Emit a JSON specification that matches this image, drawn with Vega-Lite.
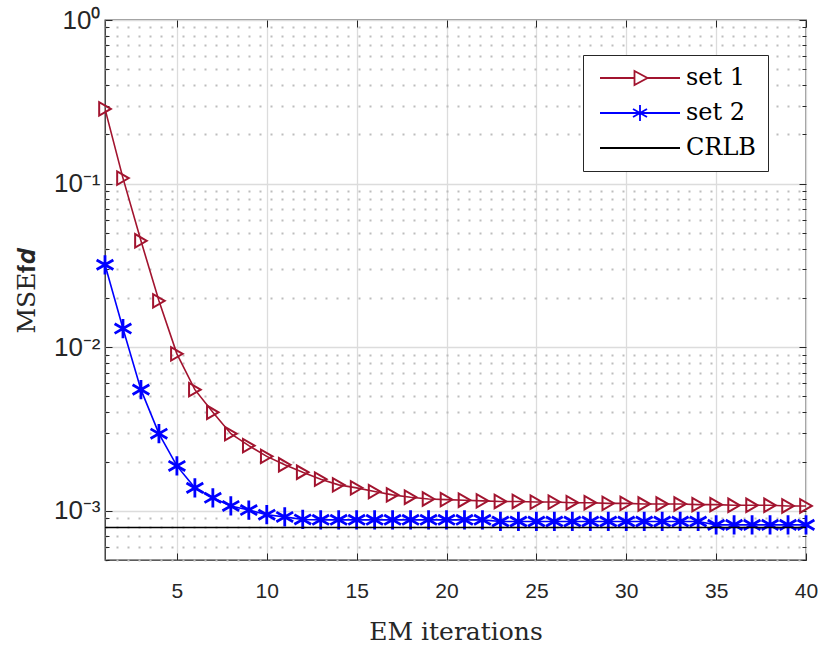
{
  "$schema": "https://vega.github.io/schema/vega-lite/v6.json",
  "width": 701,
  "height": 540,
  "autosize": {"type": "none"},
  "padding": {"left": 105, "top": 20, "right": 16, "bottom": 89},
  "background": "white",
  "config": {
    "view": {"stroke": "#262626", "strokeWidth": 1.3},
    "axis": {"domain": false}
  },
  "datasets": {
    "mse": [
      {"iter": 1, "series": "set 1", "mse": 0.286},
      {"iter": 2, "series": "set 1", "mse": 0.108},
      {"iter": 3, "series": "set 1", "mse": 0.0447},
      {"iter": 4, "series": "set 1", "mse": 0.0192},
      {"iter": 5, "series": "set 1", "mse": 0.0091},
      {"iter": 6, "series": "set 1", "mse": 0.0055},
      {"iter": 7, "series": "set 1", "mse": 0.0040},
      {"iter": 8, "series": "set 1", "mse": 0.00296},
      {"iter": 9, "series": "set 1", "mse": 0.0025},
      {"iter": 10, "series": "set 1", "mse": 0.00215},
      {"iter": 11, "series": "set 1", "mse": 0.00191},
      {"iter": 12, "series": "set 1", "mse": 0.00172},
      {"iter": 13, "series": "set 1", "mse": 0.00156},
      {"iter": 14, "series": "set 1", "mse": 0.00144},
      {"iter": 15, "series": "set 1", "mse": 0.00138},
      {"iter": 16, "series": "set 1", "mse": 0.00131},
      {"iter": 17, "series": "set 1", "mse": 0.00125},
      {"iter": 18, "series": "set 1", "mse": 0.00121},
      {"iter": 19, "series": "set 1", "mse": 0.00118},
      {"iter": 20, "series": "set 1", "mse": 0.00117},
      {"iter": 21, "series": "set 1", "mse": 0.00116},
      {"iter": 22, "series": "set 1", "mse": 0.00115},
      {"iter": 23, "series": "set 1", "mse": 0.00114},
      {"iter": 24, "series": "set 1", "mse": 0.00114},
      {"iter": 25, "series": "set 1", "mse": 0.00113},
      {"iter": 26, "series": "set 1", "mse": 0.00113},
      {"iter": 27, "series": "set 1", "mse": 0.00112},
      {"iter": 28, "series": "set 1", "mse": 0.00112},
      {"iter": 29, "series": "set 1", "mse": 0.00111},
      {"iter": 30, "series": "set 1", "mse": 0.00111},
      {"iter": 31, "series": "set 1", "mse": 0.0011},
      {"iter": 32, "series": "set 1", "mse": 0.0011},
      {"iter": 33, "series": "set 1", "mse": 0.0011},
      {"iter": 34, "series": "set 1", "mse": 0.00109},
      {"iter": 35, "series": "set 1", "mse": 0.00109},
      {"iter": 36, "series": "set 1", "mse": 0.00108},
      {"iter": 37, "series": "set 1", "mse": 0.00108},
      {"iter": 38, "series": "set 1", "mse": 0.00108},
      {"iter": 39, "series": "set 1", "mse": 0.00107},
      {"iter": 40, "series": "set 1", "mse": 0.00107},
      {"iter": 1, "series": "set 2", "mse": 0.0319},
      {"iter": 2, "series": "set 2", "mse": 0.0130},
      {"iter": 3, "series": "set 2", "mse": 0.0055},
      {"iter": 4, "series": "set 2", "mse": 0.00296},
      {"iter": 5, "series": "set 2", "mse": 0.00188},
      {"iter": 6, "series": "set 2", "mse": 0.00138},
      {"iter": 7, "series": "set 2", "mse": 0.0012},
      {"iter": 8, "series": "set 2", "mse": 0.00107},
      {"iter": 9, "series": "set 2", "mse": 0.00101},
      {"iter": 10, "series": "set 2", "mse": 0.000946},
      {"iter": 11, "series": "set 2", "mse": 0.000917},
      {"iter": 12, "series": "set 2", "mse": 0.000885},
      {"iter": 13, "series": "set 2", "mse": 0.00088},
      {"iter": 14, "series": "set 2", "mse": 0.00088},
      {"iter": 15, "series": "set 2", "mse": 0.00088},
      {"iter": 16, "series": "set 2", "mse": 0.00088},
      {"iter": 17, "series": "set 2", "mse": 0.00088},
      {"iter": 18, "series": "set 2", "mse": 0.00088},
      {"iter": 19, "series": "set 2", "mse": 0.00088},
      {"iter": 20, "series": "set 2", "mse": 0.00088},
      {"iter": 21, "series": "set 2", "mse": 0.00088},
      {"iter": 22, "series": "set 2", "mse": 0.00088},
      {"iter": 23, "series": "set 2", "mse": 0.00086},
      {"iter": 24, "series": "set 2", "mse": 0.00086},
      {"iter": 25, "series": "set 2", "mse": 0.00086},
      {"iter": 26, "series": "set 2", "mse": 0.00086},
      {"iter": 27, "series": "set 2", "mse": 0.00086},
      {"iter": 28, "series": "set 2", "mse": 0.00086},
      {"iter": 29, "series": "set 2", "mse": 0.00086},
      {"iter": 30, "series": "set 2", "mse": 0.00086},
      {"iter": 31, "series": "set 2", "mse": 0.00086},
      {"iter": 32, "series": "set 2", "mse": 0.00086},
      {"iter": 33, "series": "set 2", "mse": 0.00086},
      {"iter": 34, "series": "set 2", "mse": 0.00086},
      {"iter": 35, "series": "set 2", "mse": 0.00082},
      {"iter": 36, "series": "set 2", "mse": 0.00082},
      {"iter": 37, "series": "set 2", "mse": 0.00082},
      {"iter": 38, "series": "set 2", "mse": 0.00082},
      {"iter": 39, "series": "set 2", "mse": 0.00082},
      {"iter": 40, "series": "set 2", "mse": 0.00082}
    ],
    "crlb": [{"series": "CRLB", "mse": 0.00079}]
  },
  "resolve": {"axis": {"x": "independent", "y": "independent"}},
  "layer": [
    {
      "data": {"name": "mse"},
      "mark": {"type": "line", "strokeWidth": 1.6, "clip": true},
      "encoding": {
        "x": {
          "field": "iter", "type": "quantitative",
          "scale": {"domain": [1, 40], "nice": false, "zero": false},
          "axis": {
            "orient": "bottom",
            "values": [5, 10, 15, 20, 25, 30, 35, 40],
            "title": "EM iterations",
            "titleFont": "DejaVu Serif", "titleFontSize": 25, "titleFontWeight": "normal", "titleColor": "#262626", "titlePadding": 18,
            "labelFont": "Liberation Sans", "labelFontSize": 21, "labelColor": "#262626", "labelPadding": 27, "labelFlush": false,
            "tickSize": -7, "tickColor": "#262626", "tickWidth": 1,
            "grid": true, "gridColor": "#dcdcdc", "gridWidth": 1.3
          }
        },
        "y": {
          "field": "mse", "type": "quantitative",
          "scale": {"type": "log", "domain": [0.0005, 1], "nice": false},
          "axis": {
            "orient": "left",
            "values": [0.0005, 0.0006, 0.0007, 0.0008, 0.0009, 0.001, 0.002, 0.003, 0.004, 0.005, 0.006, 0.007, 0.008, 0.009, 0.01, 0.02, 0.03, 0.04, 0.05, 0.06, 0.07, 0.08, 0.09, 0.1, 0.2, 0.3, 0.4, 0.5, 0.6, 0.7, 0.8, 0.9, 1],
            "labelExpr": "abs(log(datum.value)/LN10 - round(log(datum.value)/LN10)) < 0.001 ? '10' + ['⁰','⁻¹','⁻²','⁻³'][-round(log(datum.value)/LN10)] : ''",
            "title": "MSE𝐟𝒅",
            "titleFont": "DejaVu Serif", "titleFontSize": 25, "titleFontWeight": "normal", "titleColor": "#262626", "titlePadding": 14,
            "labelFont": "Liberation Sans", "labelFontSize": 26, "labelColor": "#262626", "labelPadding": 12, "labelFlush": false,
            "tickSize": {"condition": {"test": "abs(log(datum.value)/LN10 - round(log(datum.value)/LN10)) < 0.001", "value": -7}, "value": -4},
            "tickColor": "#262626", "tickWidth": 1,
            "grid": true,
            "gridColor": {"condition": {"test": "abs(log(datum.value)/LN10 - round(log(datum.value)/LN10)) < 0.001", "value": "#dcdcdc"}, "value": "#bdbdbd"},
            "gridDash": {"condition": {"test": "abs(log(datum.value)/LN10 - round(log(datum.value)/LN10)) < 0.001", "value": []}, "value": [2, 9]},
            "gridWidth": {"condition": {"test": "abs(log(datum.value)/LN10 - round(log(datum.value)/LN10)) < 0.001", "value": 1.3}, "value": 1.8}
          }
        },
        "color": {
          "field": "series", "type": "nominal",
          "scale": {"domain": ["set 1", "set 2", "CRLB"], "range": ["#A2142F", "#0000FF", "#000000"]},
          "legend": {
            "orient": "none", "legendX": 478, "legendY": 35,
            "title": null,
            "labelFont": "DejaVu Serif", "labelFontSize": 24, "labelColor": "#000000",
            "symbolSize": 400, "symbolStrokeWidth": 1.5, "symbolOffset": 34, "labelOffset": 34,
            "rowPadding": 11, "padding": 11,
            "strokeColor": "#262626", "fillColor": "white",
            "encode": {
              "symbols": {
                "update": {
                  "shape": {"signal": "datum.value === 'set 1' ? 'M-4,0H-0.55M0.75,0H4M-0.55,-0.7L0.75,0L-0.55,0.7Z' : datum.value === 'set 2' ? 'M-4,0H4M0,-0.8V0.8M-0.7,-0.4L0.7,0.4M-0.7,0.4L0.7,-0.4' : 'M-4,0H4'"},
                  "fill": {"value": "transparent"},
                  "strokeWidth": {"value": 1.8}
                }
              }
            }
          }
        }
      }
    },
    {
      "data": {"name": "mse"},
      "mark": {"type": "point", "filled": false, "opacity": 1},
      "encoding": {
        "x": {"field": "iter", "type": "quantitative", "axis": null},
        "y": {"field": "mse", "type": "quantitative", "axis": null},
        "color": {"field": "series", "type": "nominal", "legend": null},
        "shape": {
          "field": "series", "type": "nominal", "legend": null,
          "scale": {"domain": ["set 1", "set 2"], "range": ["triangle-right", "M0,-1V1M-0.87,-0.5L0.87,0.5M-0.87,0.5L0.87,-0.5"]}
        },
        "size": {
          "field": "series", "type": "nominal", "legend": null,
          "scale": {"domain": ["set 1", "set 2"], "range": [180, 370]}
        },
        "strokeWidth": {
          "field": "series", "type": "nominal", "legend": null,
          "scale": {"domain": ["set 1", "set 2"], "range": [2, 2.8]}
        }
      }
    },
    {
      "data": {"name": "crlb"},
      "mark": {"type": "rule", "strokeWidth": 1.6},
      "encoding": {
        "y": {"field": "mse", "type": "quantitative", "axis": null},
        "color": {"field": "series", "type": "nominal", "legend": null}
      }
    },
    {
      "data": {"name": "mse"},
      "mark": {"type": "point", "opacity": 0},
      "encoding": {
        "x": {
          "field": "iter", "type": "quantitative",
          "axis": {"orient": "top", "values": [5, 10, 15, 20, 25, 30, 35, 40], "labels": false, "title": null, "grid": false, "tickSize": -7, "tickColor": "#262626"}
        },
        "y": {
          "field": "mse", "type": "quantitative",
          "axis": {
            "orient": "right",
            "values": [0.0005, 0.0006, 0.0007, 0.0008, 0.0009, 0.001, 0.002, 0.003, 0.004, 0.005, 0.006, 0.007, 0.008, 0.009, 0.01, 0.02, 0.03, 0.04, 0.05, 0.06, 0.07, 0.08, 0.09, 0.1, 0.2, 0.3, 0.4, 0.5, 0.6, 0.7, 0.8, 0.9, 1],
            "labels": false, "title": null, "grid": false, "tickColor": "#262626",
            "tickSize": {"condition": {"test": "abs(log(datum.value)/LN10 - round(log(datum.value)/LN10)) < 0.001", "value": -7}, "value": -4}
          }
        }
      }
    }
  ]
}
